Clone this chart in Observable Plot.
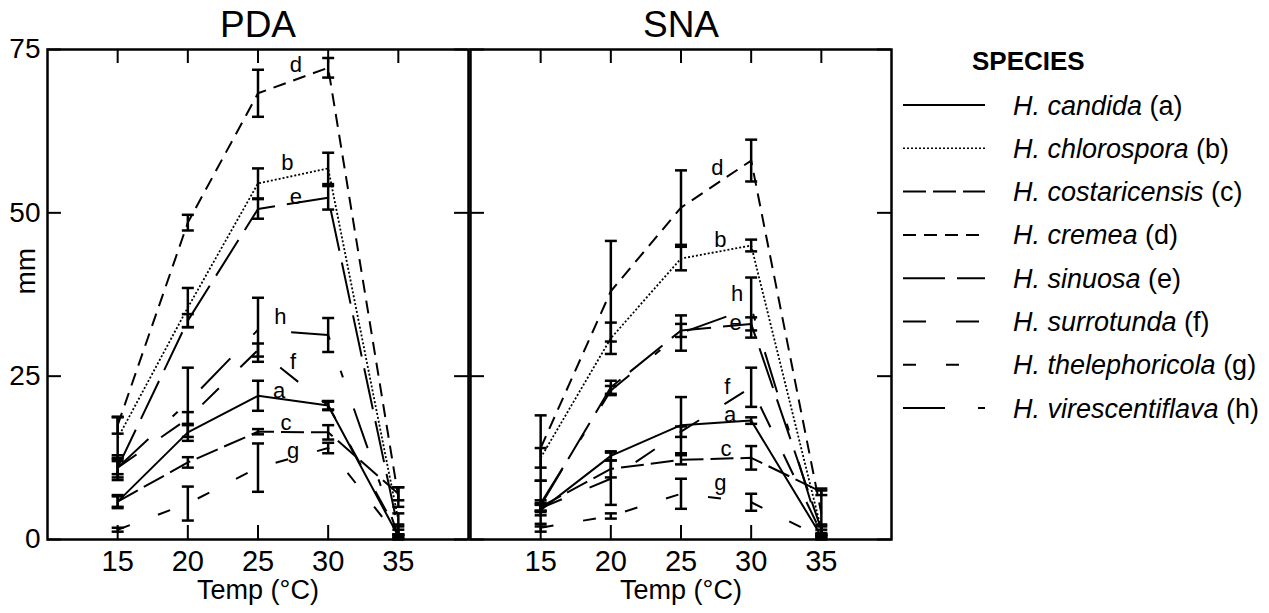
<!DOCTYPE html>
<html><head><meta charset="utf-8">
<script src="https://cdn.jsdelivr.net/npm/d3@7"></script>
<script src="https://cdn.jsdelivr.net/npm/@observablehq/plot@0.6"></script>
<style>
html,body{margin:0;padding:0;background:#fff;}
#wrap{position:relative;width:1269px;height:613px;font-family:"Liberation Sans",Arial,sans-serif;overflow:hidden;}
#chart{position:absolute;left:0;top:0;}
#legend{position:absolute;left:0;top:0;}
</style></head><body><div id="wrap"><div id="chart"></div><div id="legend"></div></div>
<script>
// ---- data ----
const temps = [15, 20, 25, 30, 35];
const media = ["PDA", "SNA"];
const yTicks = [0, 25, 50, 75];
const speciesCodes = ["a", "b", "c", "d", "e", "f", "g", "h"];
const speciesNames = ["H. candida", "H. chlorospora", "H. costaricensis", "H. cremea",
  "H. sinuosa", "H. surrotunda", "H. thelephoricola", "H. virescentiflava"];
const dashes = ["none", "2,2", "23,7", "13,8", "42,12", "23,30", "13,30", "42,33,7,33"];

// rows follow speciesCodes order, columns follow temps
const pdaMean = [
  [5.8, 16.4, 22.0, 20.5, 0.5],
  [15.5, 35.5, 54.5, 56.8, 3.0],
  [5.8, 11.8, 16.5, 16.4, 7.0],
  [17.5, 48.5, 68.3, 72.2, 6.5],
  [11.0, 33.5, 50.6, 52.3, 1.5],
  [11.0, 18.5, 29.0, 20.5, 1.0],
  [1.5, 5.5, 11.0, 14.0, 0.3],
  [11.0, 21.0, 32.1, 31.3, 0.5]
];
const pdaErr = [
  [1.0, 1.3, 2.3, 0.7, 0.3],
  [3.2, 3.0, 2.3, 2.4, 1.0],
  [0.8, 0.8, 0.4, 1.1, 1.0],
  [1.3, 1.2, 3.6, 1.5, 1.5],
  [1.9, 1.0, 1.5, 1.8, 0.8],
  [1.0, 1.0, 1.0, 0.6, 0.5],
  [0.3, 2.6, 3.7, 0.8, 0.3],
  [1.5, 5.3, 4.9, 2.6, 0.3]
];
const snaMean = [
  [4.5, 12.8, 17.5, 18.2, 0.5],
  [12.5, 30.8, 43.0, 45.0, 1.5],
  [5.0, 10.8, 12.2, 12.5, 7.3],
  [14.0, 38.0, 50.8, 58.0, 4.0],
  [5.2, 23.3, 32.0, 33.0, 1.5],
  [4.8, 9.3, 16.5, 23.3, 1.0],
  [1.8, 3.6, 7.0, 5.7, 0.3],
  [5.5, 22.8, 31.6, 35.5, 0.5]
];
const snaErr = [
  [0.8, 0.7, 4.3, 0.5, 0.3],
  [1.5, 2.4, 1.8, 0.9, 0.5],
  [0.6, 1.3, 0.7, 1.8, 0.5],
  [5.0, 7.7, 5.7, 3.2, 3.5],
  [0.8, 1.0, 1.0, 1.0, 0.8],
  [0.6, 4.0, 0.8, 3.0, 0.5],
  [0.6, 0.4, 2.3, 1.3, 0.3],
  [3.5, 0.7, 2.7, 4.6, 0.3]
];
// curve letter label positions (temp, mm)
const pdaLabelT = [26.5, 27.1, 27.0, 27.7, 27.7, 27.5, 27.5, 26.6];
const pdaLabelV = [22.8, 57.6, 17.9, 72.6, 52.5, 27.1, 13.6, 34.0];
const snaLabelT = [28.5, 27.8, 28.2, 27.6, 28.9, 28.3, 27.8, 29.0];
const snaLabelV = [19.0, 45.8, 13.9, 56.8, 33.2, 23.3, 8.7, 37.6];

// ---- build tables ----
const rows = [];
const labels = [];
[[media[0], pdaMean, pdaErr, pdaLabelT, pdaLabelV], [media[1], snaMean, snaErr, snaLabelT, snaLabelV]]
  .forEach(([m, means, errs, lt, lv]) => {
    speciesCodes.forEach((code, i) => {
      temps.forEach((t, j) => rows.push({medium: m, code, temp: t, v: means[i][j], e: errs[i][j]}));
      labels.push({medium: m, code, t: lt[i], v: lv[i]});
    });
  });

const font = "'Liberation Sans', Arial, Helvetica, sans-serif";
const capSymbol = {draw(ctx, size) { const r = Math.sqrt(size / Math.PI); ctx.moveTo(-r, 0); ctx.lineTo(r, 0); }};
const tickPx = 14, plotH = 490, panelW = 422;
const tyU = tickPx * 75 / plotH;   // inward tick length in y units
const txU = tickPx * 30 / panelW;  // inward tick length in x units

const lineMarks = speciesCodes.map((code, i) =>
  Plot.line(rows.filter(d => d.code === code), {
    fx: "medium", x: "temp", y: "v", stroke: "black",
    strokeWidth: code === "b" ? 1.8 : 2, strokeDasharray: dashes[i] === "none" ? null : dashes[i],
    strokeLinecap: "butt"
  }));

const chart = Plot.plot({
  width: 900, height: 613,
  marginLeft: 46, marginRight: 8, marginTop: 49, marginBottom: 74,
  style: {fontFamily: font, fontSize: "28px", color: "black", background: "white", overflow: "visible"},
  fx: {domain: media, paddingInner: 0.0047, paddingOuter: 0, label: null},
  x: {domain: [10, 40], label: null},
  y: {domain: [0, 75], label: null},
  marks: [
    ...lineMarks,
    Plot.ruleX(rows, {fx: "medium", x: "temp", y1: d => d.v - d.e, y2: d => d.v + d.e, stroke: "black", strokeWidth: 2.5}),
    Plot.dot(rows, {fx: "medium", x: "temp", y: d => d.v + d.e, symbol: capSymbol, r: 6, stroke: "black", strokeWidth: 2.5, fill: "none"}),
    Plot.dot(rows, {fx: "medium", x: "temp", y: d => d.v - d.e, symbol: capSymbol, r: 6, stroke: "black", strokeWidth: 2.5, fill: "none"}),
    Plot.text(labels, {fx: "medium", x: "t", y: "v", text: "code", fontSize: 22, fill: "black", textAnchor: "middle", lineAnchor: "middle"}),
    Plot.ruleX(temps, {x: d => d, y1: 0, y2: tyU, stroke: "black", strokeWidth: 2}),
    Plot.ruleX(temps, {x: d => d, y1: 75 - tyU, y2: 75, stroke: "black", strokeWidth: 2}),
    Plot.ruleY(yTicks, {y: d => d, x1: 10, x2: 10 + txU, stroke: "black", strokeWidth: 2}),
    Plot.ruleY(yTicks, {y: d => d, x1: 40 - txU, x2: 40, stroke: "black", strokeWidth: 2}),
    Plot.frame({stroke: "black", strokeWidth: 2.5}),
    Plot.axisX({ticks: temps, tickSize: 0, tickPadding: 11, fontSize: 29, label: null}),
    Plot.axisY({ticks: yTicks, tickSize: 0, tickPadding: 7, fontSize: 28, label: null}),
    Plot.axisFx({anchor: "top", tickSize: 0, tickPadding: 13, fontSize: 37, label: null}),
    Plot.text(["Temp (°C)"], {frameAnchor: "bottom", lineAnchor: "top", dy: 40, fontSize: 27, fill: "black", text: d => d}),
    Plot.text([{medium: media[0], t: "mm"}], {fx: "medium", frameAnchor: "left", text: "t", rotate: -90, dx: -21, fontSize: 28, fill: "black", lineAnchor: "middle"})
  ]
});
document.getElementById("chart").appendChild(chart);

// ---- legend ----
const leg = d3.select("#legend").append("svg").attr("width", 1269).attr("height", 613)
  .style("font-family", font);
leg.append("text").attr("x", 972).attr("y", 70).attr("font-size", 26).attr("font-weight", "bold").text("SPECIES");
speciesCodes.forEach((code, i) => {
  const y = 105 + i * 43.3;
  leg.append("line").attr("x1", 903).attr("x2", 985).attr("y1", y).attr("y2", y)
    .attr("stroke", "black").attr("stroke-width", code === "b" ? 1.6 : 2)
    .attr("stroke-dasharray", dashes[i] === "none" ? null : dashes[i]);
  const t = leg.append("text").attr("x", 1013).attr("y", y + 9.5).attr("font-size", 27);
  t.append("tspan").attr("font-style", "italic").text(speciesNames[i]);
  t.append("tspan").text(" (" + code + ")");
});
</script></body></html>
